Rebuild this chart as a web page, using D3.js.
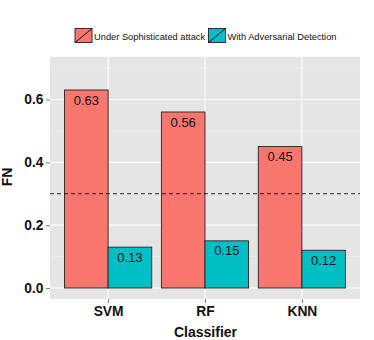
<!DOCTYPE html>
<html><head><meta charset="utf-8">
<script src="https://cdn.jsdelivr.net/npm/d3@7"></script>
<style>body{margin:0;background:#fff;} svg{display:block;font-family:"Liberation Sans",Arial,sans-serif;}</style>
</head><body>
<svg id="chart" width="374" height="340"></svg>
<script>
const categories = ["SVM", "RF", "KNN"];
const seriesNames = ["Under Sophisticated attack", "With Adversarial Detection"];
const attackValues = [0.63, 0.56, 0.45];
const detectionValues = [0.13, 0.15, 0.12];
const yTicks = [0.0, 0.2, 0.4, 0.6];
const yMinorTicks = [0.1, 0.3, 0.5, 0.7];
const thresholdValue = 0.3;
const colors = ["#F8766D", "#00BFC4"];

const svg = d3.select("#chart");
const panel = {left: 50, right: 360, top: 57, bottom: 299};
const FONT = "Liberation Sans, Arial, sans-serif";

const y = d3.scaleLinear().domain([-0.035, 0.735]).range([panel.bottom, panel.top]);
// ggplot discrete expansion: 0.6 units each side, dodge width 0.9
const unit = (panel.right - panel.left) / (categories.length - 1 + 1.2);
const cx = d3.scalePoint().domain(categories).range([panel.left + 0.6*unit, panel.right - 0.6*unit]);
const sub = d3.scaleBand().domain(seriesNames).range([-0.45*unit, 0.45*unit]);

// panel background
svg.append("rect").attr("x", panel.left).attr("y", panel.top)
  .attr("width", panel.right - panel.left).attr("height", panel.bottom - panel.top)
  .attr("fill", "#E5E5E5");

// minor grid
svg.append("g").selectAll("line").data(yMinorTicks).join("line")
  .attr("x1", panel.left).attr("x2", panel.right)
  .attr("y1", d => y(d)).attr("y2", d => y(d))
  .attr("stroke", "#F2F2F2").attr("stroke-width", 0.6);
// major grid
svg.append("g").selectAll("line").data(yTicks).join("line")
  .attr("x1", panel.left).attr("x2", panel.right)
  .attr("y1", d => y(d)).attr("y2", d => y(d))
  .attr("stroke", "#FFFFFF").attr("stroke-width", 1.1);
svg.append("g").selectAll("line").data(categories).join("line")
  .attr("x1", d => cx(d)).attr("x2", d => cx(d))
  .attr("y1", panel.top).attr("y2", panel.bottom)
  .attr("stroke", "#FFFFFF").attr("stroke-width", 1.1);

// bars
const rows = categories.map((c, i) => ({cat: c, vals: [attackValues[i], detectionValues[i]]}));
const groups = svg.append("g").selectAll("g").data(rows).join("g")
  .attr("transform", d => `translate(${cx(d.cat)},0)`);
groups.selectAll("rect").data(d => d.vals.map((v, j) => ({v, s: seriesNames[j], j}))).join("rect")
  .attr("x", d => sub(d.s)).attr("width", sub.bandwidth())
  .attr("y", d => y(d.v)).attr("height", d => y(0) - y(d.v))
  .attr("fill", d => colors[d.j]).attr("stroke", "#222").attr("stroke-width", 0.9);
groups.selectAll("text").data(d => d.vals.map((v, j) => ({v, s: seriesNames[j], j}))).join("text")
  .attr("x", d => sub(d.s) + sub.bandwidth()/2).attr("y", d => y(d.v) + 14.5)
  .attr("text-anchor", "middle").attr("font-size", 13).attr("fill", "#111")
  .text(d => d.v.toFixed(2));

// threshold line
svg.append("line").attr("x1", panel.left).attr("x2", panel.right)
  .attr("y1", y(thresholdValue)).attr("y2", y(thresholdValue))
  .attr("stroke", "#111").attr("stroke-width", 0.9).attr("stroke-dasharray", "4,3");

// y axis
const yAxis = d3.axisLeft(y).tickValues(yTicks).tickFormat(d3.format(".1f")).tickSize(4).tickPadding(2.5);
const ya = svg.append("g").attr("transform", `translate(${panel.left},0)`).call(yAxis);
ya.select(".domain").remove();
ya.selectAll(".tick line").attr("stroke", "#7F7F7F");
ya.selectAll(".tick text").attr("font-size", 13.8).attr("font-weight", "bold").attr("fill", "#111")
  .attr("font-family", FONT);

// x axis
const xAxis = d3.axisBottom(cx).tickSize(4).tickPadding(3);
const xa = svg.append("g").attr("transform", `translate(0,${panel.bottom})`).call(xAxis);
xa.select(".domain").remove();
xa.selectAll(".tick line").attr("stroke", "#7F7F7F");
xa.selectAll(".tick text").attr("font-size", 13.8).attr("font-weight", "bold").attr("fill", "#111")
  .attr("font-family", FONT);

// axis titles
svg.append("text").attr("x", (panel.left + panel.right)/2 + 0.5).attr("y", 337)
  .attr("text-anchor", "middle").attr("font-size", 14).attr("font-weight", "bold").attr("fill", "#111").text("Classifier");
svg.append("text").attr("transform", `translate(11.5,177) rotate(-90)`)
  .attr("text-anchor", "middle").attr("font-size", 14).attr("font-weight", "bold").attr("fill", "#111").text("FN");

// legend
const legend = svg.append("g");
const keyX = [75, 208.5];
seriesNames.forEach((s, j) => {
  const g = legend.append("g").attr("transform", `translate(${keyX[j]},28.5)`);
  g.append("rect").attr("width", 17).attr("height", 14).attr("fill", colors[j]).attr("stroke", "#222").attr("stroke-width", 0.9);
  g.append("line").attr("x1", 0).attr("y1", 14).attr("x2", 17).attr("y2", 0).attr("stroke", "#111").attr("stroke-width", 1);
  g.append("text").attr("x", 19).attr("y", 11).attr("font-size", 9.3).attr("fill", "#111").text(s);
});
</script>
</body></html>
